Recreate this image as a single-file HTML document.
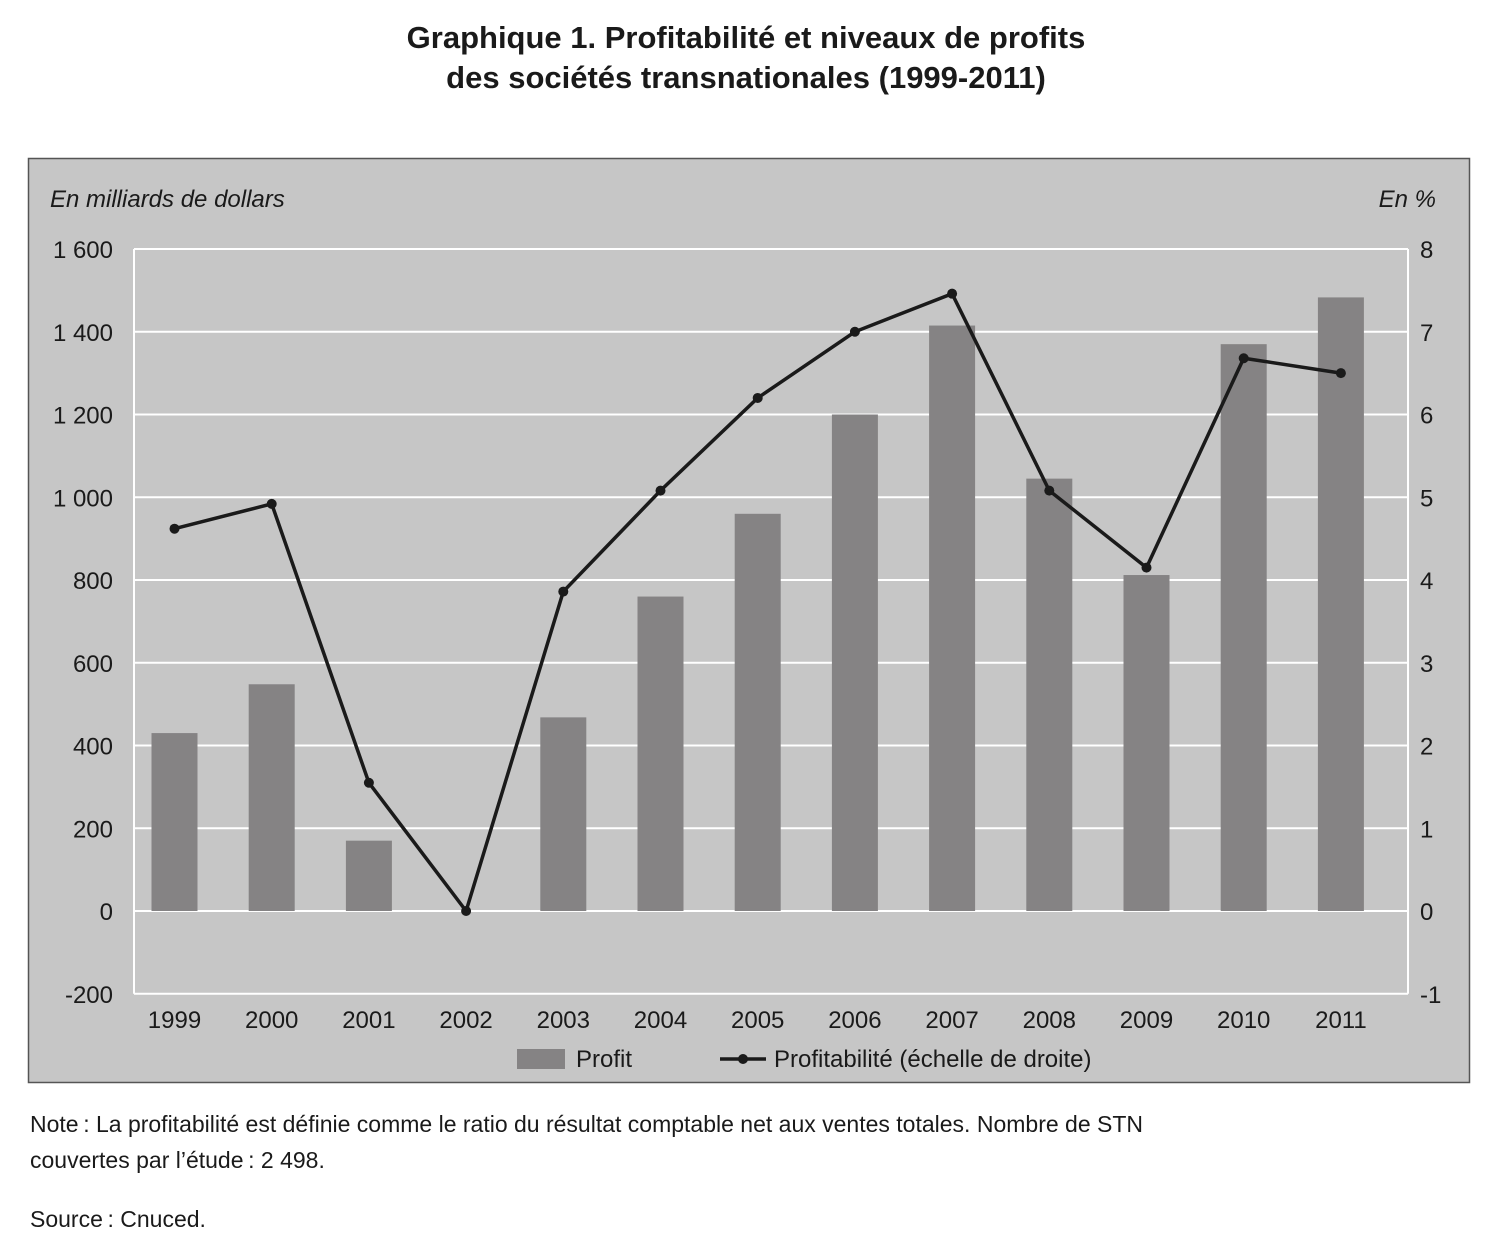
<!DOCTYPE html>
<html><head><meta charset="utf-8"><style>
body{margin:0;background:#fff;width:1492px;height:1244px;position:relative;font-family:"Liberation Sans",sans-serif;color:#1a1a1a}
.t{position:absolute;white-space:nowrap}
</style></head><body>
<div class="t" style="left:0;width:1492px;top:18px;text-align:center;font-weight:bold;font-size:31px;line-height:40px">Graphique 1. Profitabilité et niveaux de profits<br>des sociétés transnationales (1999-2011)</div>
<svg style="position:absolute;left:0;top:0" width="1492" height="1244" id="svg">
<rect x="28.5" y="158.5" width="1441" height="924" fill="#c6c6c6" stroke="#555" stroke-width="1.5"/>
<text x="50" y="207" font-size="24" font-style="italic" font-family="Liberation Sans, sans-serif" fill="#1a1a1a">En milliards de dollars</text>
<text x="1436" y="207" font-size="24" font-style="italic" text-anchor="end" font-family="Liberation Sans, sans-serif" fill="#1a1a1a">En %</text>
<g id="g"></g>
</svg>
<div class="t" style="left:30px;top:1106px;font-size:23px;line-height:36px">Note&#8239;: La profitabilité est définie comme le ratio du résultat comptable net aux ventes totales. Nombre de STN<br>couvertes par l’étude&#8239;: 2 498.</div>
<div class="t" style="left:30px;top:1206px;font-size:23px">Source&#8239;: Cnuced.</div>
<script>
const years=["1999","2000","2001","2002","2003","2004","2005","2006","2007","2008","2009","2010","2011"];
const profit=[430,548,170,0,468,760,960,1200,1415,1045,812,1370,1483];
const profitability=[4.62,4.92,1.55,0,3.86,5.08,6.2,7.0,7.46,5.08,4.15,6.68,6.5];
const leftTicks=[-200,0,200,400,600,800,1000,1200,1400,1600];
const rightTicks=[-1,0,1,2,3,4,5,6,7,8];
const NS="http://www.w3.org/2000/svg",g=document.getElementById('g');
const X0=134,X1=1408,Y0=911,K=662/1600;
const yL=v=>Y0-v*K, yR=v=>Y0-v*662/8, xC=i=>174.5+i*97.2;
function mk(t,a,txt){const e=document.createElementNS(NS,t);for(const k in a)e.setAttribute(k,a[k]);if(txt!==undefined)e.textContent=txt;g.appendChild(e);return e;}
const F="Liberation Sans, sans-serif";
leftTicks.forEach(v=>{
 const l=mk('line',{x1:X0,x2:X1,y1:yL(v),y2:yL(v),stroke:'#fff','stroke-width':2});
 
 
 const t=mk('text',{x:113,y:yL(v)+9,'font-size':24,'text-anchor':'end','font-family':F,fill:'#1a1a1a'},v.toLocaleString('fr-FR').replace(/\s/g,' '));
 
 
});
rightTicks.forEach(v=>{
 const t=mk('text',{x:1420,y:yR(v)+9,'font-size':24,'font-family':F,fill:'#1a1a1a'},String(v));
 
 
});
[[X0,X0],[X1,X1]].forEach(([a])=>{const l=mk('line',{x1:a,x2:a,y1:yL(1600),y2:yL(-200),stroke:'#fff','stroke-width':2});
 
 });
profit.forEach((v,i)=>{
 const r=mk('rect',{x:xC(i)-23,width:46,y:Math.min(yL(v),Y0),height:Math.abs(Y0-yL(v)),fill:'#858384'});
 
 
 const t=mk('text',{x:xC(i),y:1028,'font-size':24,'text-anchor':'middle','font-family':F,fill:'#1a1a1a'},years[i]);
 
 
});
const p=mk('polyline',{points:profitability.map((v,i)=>xC(i)+','+yR(v)).join(' '),fill:'none',stroke:'#1a1a1a','stroke-width':3.5,'stroke-linejoin':'miter'});


profitability.forEach((v,i)=>{const c=mk('circle',{cx:xC(i),cy:yR(v),r:5,fill:'#1a1a1a'});
 
 });
const lr=mk('rect',{x:517,y:1049,width:48,height:20,fill:'#858384'});


const lt=mk('text',{x:576,y:1067,'font-size':24,'font-family':F,fill:'#1a1a1a'},'Profit');


const ll=mk('line',{x1:720,x2:766,y1:1059,y2:1059,stroke:'#1a1a1a','stroke-width':3.5});


const lc=mk('circle',{cx:743,cy:1059,r:5,fill:'#1a1a1a'});


const lt2=mk('text',{x:774,y:1067,'font-size':24,'font-family':F,fill:'#1a1a1a'},'Profitabilité (échelle de droite)');


</script>
</body></html>
